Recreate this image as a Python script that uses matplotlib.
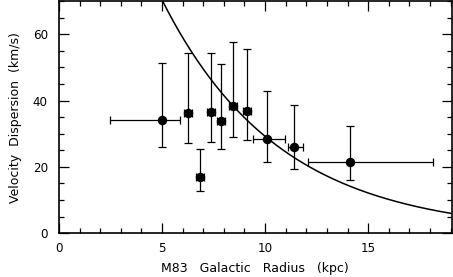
import numpy as np
import matplotlib
matplotlib.use('Agg')
import matplotlib.pyplot as plt
from matplotlib.ticker import MultipleLocator

# Data
radius = [5.0, 6.28, 6.84, 7.36, 7.86, 8.43, 9.11, 10.08, 11.4, 14.1]
radius_lo = [2.5, 6.08, 6.64, 7.16, 7.66, 8.23, 8.91, 9.43, 11.1, 12.1]
radius_hi = [5.87, 6.48, 7.04, 7.56, 8.06, 8.63, 9.31, 10.97, 11.86, 18.17]
sigma = [34.2, 36.3, 17.0, 36.5, 33.8, 38.4, 37.0, 28.5, 26.0, 21.5]
sigma_lo = [26.0, 27.3, 12.8, 27.4, 25.5, 29.0, 28.2, 21.5, 19.5, 16.2]
sigma_hi = [51.3, 54.5, 25.5, 54.5, 51.0, 57.7, 55.5, 42.8, 38.7, 32.2]

# exponential model curve
sigma0 = 169.5
h_scale = 5.69

plt.rcParams['font.family'] = ['DejaVu Sans']

fig = plt.figure(figsize=(4.53, 2.77), dpi=100)
ax = fig.add_axes([0.130, 0.158, 0.867, 0.838])

r = np.array(radius)
s = np.array(sigma)
xerr = [r - np.array(radius_lo), np.array(radius_hi) - r]
yerr = [s - np.array(sigma_lo), np.array(sigma_hi) - s]

ax.errorbar(r, s, xerr=xerr, yerr=yerr, fmt='o', color='black',
            ms=5.8, elinewidth=0.9, capsize=2.8, capthick=0.9, zorder=3)

rr = np.linspace(0, 19.1, 400)
ax.plot(rr, sigma0 * np.exp(-rr / h_scale), color='black', lw=1.1)

ax.set_xlim(0, 19.05)
ax.set_ylim(0, 70)
ax.xaxis.set_major_locator(MultipleLocator(5))
ax.xaxis.set_minor_locator(MultipleLocator(1))
ax.yaxis.set_major_locator(MultipleLocator(20))
ax.yaxis.set_minor_locator(MultipleLocator(5))
ax.tick_params(which='both', direction='in', top=True, right=True,
               labelsize=8.6, width=0.9)
ax.tick_params(which='major', length=7)
ax.tick_params(which='minor', length=3.5)
ax.tick_params(axis='x', which='major', pad=6)
ax.tick_params(axis='y', which='major', pad=8)
for sp in ax.spines.values():
    sp.set_linewidth(1.2)

ax.set_xlabel('M83   Galactic   Radius   (kpc)', fontsize=9, labelpad=5)
ax.set_ylabel('Velocity  Dispersion  (km/s)', fontsize=9, labelpad=8)

fig.savefig('out.png', dpi=100)
